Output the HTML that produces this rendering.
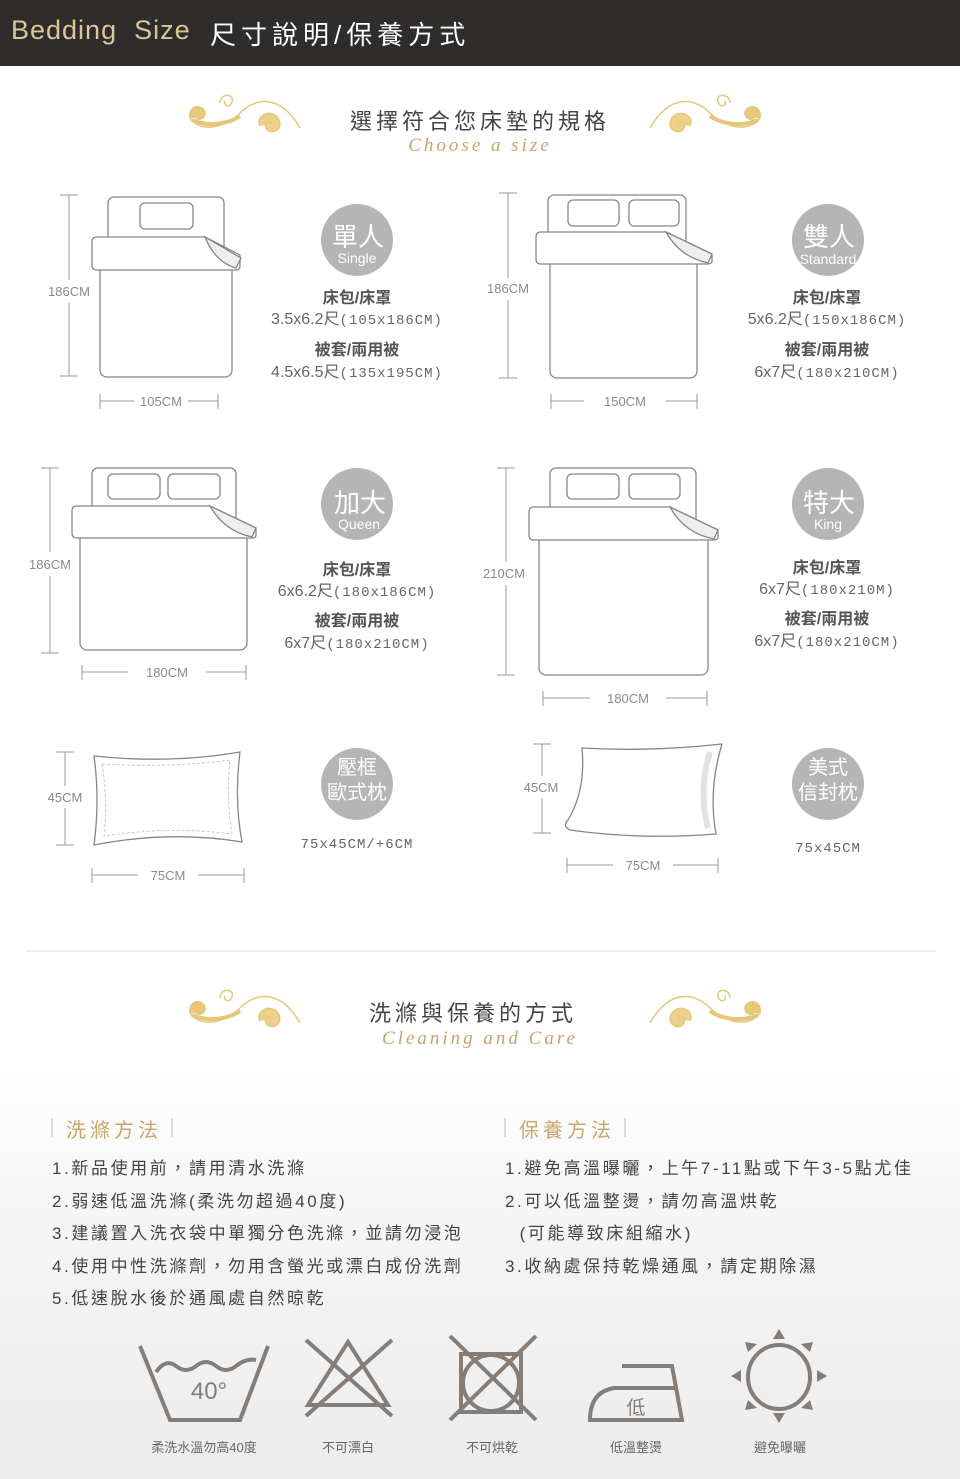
<!DOCTYPE html>
<html><head><meta charset="utf-8"><style>
*{margin:0;padding:0;box-sizing:border-box}
body{width:960px;height:1479px;position:relative;overflow:hidden;font-family:"Liberation Sans","Noto Sans CJK TC",sans-serif;background:linear-gradient(#fff 0,#fff 1070px,#f7f6f6 1200px,#ececec 1479px)}
.a{position:absolute;white-space:nowrap}
.c{transform:translateX(-50%);text-align:center}
.hdr{position:absolute;left:0;top:0;width:960px;height:66px;background:#2f2d2b}
.dim{color:#8a8a8a;font-size:13px}
.bt{font-size:16px;font-weight:bold;color:#555}
.bs{font-size:16px;color:#666}
.bs span{font-family:"Liberation Mono",monospace;font-size:14px;letter-spacing:1px}
.li{font-size:17px;color:#444;letter-spacing:2.6px}
.lh{font-size:20px;color:#c9a56a;letter-spacing:4px}
.lab{font-size:13px;color:#666}
</style></head><body>
<div class="hdr"></div>
<div class="a" style="left:11px;top:15px;font-size:27px;color:#d8c79a;letter-spacing:1px">Bedding&nbsp; Size</div>
<div class="a" style="left:210px;top:15px;font-size:26px;color:#fff;letter-spacing:5px">尺寸說明/保養方式</div>

<svg class="a" style="left:0;top:0" width="960" height="1479">
<defs>
<g id="orn" fill="none" stroke="#e6c77a" stroke-width="1.5">
<path d="M0,30 C10,45 35,40 50,25 C65,10 90,5 110,40" />
<path d="M0,30 C-2,20 8,15 14,22 C18,28 10,34 6,30" fill="#e8c97c"/>
<path d="M30,15 C30,5 45,5 42,14 C40,20 33,18 35,13"/>
<path d="M70,38 C65,28 80,20 88,30 C95,42 80,48 76,40 C73,34 80,32 82,36" fill="#ecd08c"/>
<path d="M2,32 C20,40 40,35 50,28" stroke-width="4"/>
</g>
</defs>
<use href="#orn" x="190" y="88"/>
<use href="#orn" transform="translate(760,88) scale(-1,1)"/>
<use href="#orn" x="190" y="983"/>
<use href="#orn" transform="translate(760,983) scale(-1,1)"/>

<g fill="#fff" stroke="#8a8585" stroke-width="1.3">
<rect x="108" y="197" width="116" height="70" rx="6"/>
<rect x="140" y="203" width="53" height="26" rx="5"/>
<rect x="100" y="262" width="132" height="115" rx="7"/>
<path d="M97,237 H205 L240,255 V266 Q240,270 236,270 H97 Q92,270 92,265 V242 Q92,237 97,237Z"/>
<path d="M205,237 Q215,262 236,268 L241,258 Z" fill="#eee"/>
<rect x="548" y="195" width="138" height="70" rx="6"/>
<rect x="568" y="200" width="51" height="26" rx="5"/>
<rect x="629" y="200" width="50" height="26" rx="5"/>
<rect x="550" y="258" width="147" height="120" rx="7"/>
<path d="M541,232 H666 L712,254 V261 Q712,264 708,264 H541 Q536,264 536,259 V237 Q536,232 541,232Z"/>
<path d="M666,232 Q680,257 708,263 L712,254 Z" fill="#eee"/>
<rect x="92" y="468" width="144" height="70" rx="6"/>
<rect x="108" y="474" width="52" height="25" rx="5"/>
<rect x="168" y="474" width="52" height="25" rx="5"/>
<rect x="80" y="532" width="167" height="118" rx="7"/>
<path d="M77,506 H210 L256,528 V535 Q256,538 252,538 H77 Q72,538 72,533 V511 Q72,506 77,506Z"/>
<path d="M210,506 Q224,531 252,537 L256,528 Z" fill="#eee"/>
<rect x="550" y="468" width="146" height="72" rx="6"/>
<rect x="567" y="474" width="52" height="25" rx="5"/>
<rect x="629" y="474" width="51" height="25" rx="5"/>
<rect x="539" y="534" width="169" height="141" rx="7"/>
<path d="M534,507 H670 L718,530 V537 Q718,540 714,540 H534 Q529,540 529,535 V512 Q529,507 534,507Z"/>
<path d="M670,507 Q684,533 714,539 L718,530 Z" fill="#eee"/>
<path d="M94,756 Q170,764 240,752 Q234,800 242,842 Q170,830 94,845 Q100,800 94,756Z"/>
<path d="M582,748 Q650,752 722,744 Q708,790 716,834 Q640,840 570,830 Q562,826 568,820 Q586,790 582,748Z"/>
</g>
<g fill="none" stroke="#bbb" stroke-width="0.8" stroke-dasharray="3,2">
<path d="M102,764 Q170,768 230,760 Q226,800 232,834 Q170,826 104,836 Q108,800 102,764Z"/>
</g>
<path d="M710,752 Q698,790 708,828" stroke="#e2e2e2" stroke-width="6" fill="none"/>

<g stroke="#999" stroke-width="1" fill="none">
<path d="M69,195V280M69,303V376M60,195H78M60,376H78"/>
<path d="M100,401H134M188,401H218M100,394V409M218,394V409"/>
<path d="M508,193V278M508,300V378M499,193H517M499,378H517"/>
<path d="M551,401H584M666,401H697M551,394V409M697,394V409"/>
<path d="M50,468V552M50,576V653M41,468H59M41,653H59"/>
<path d="M82,672H128M206,672H246M82,665V680M246,665V680"/>
<path d="M506,468V562M506,585V675M497,468H515M497,675H515"/>
<path d="M543,698H590M666,698H707M543,691V706M707,691V706"/>
<path d="M65,752V786M65,808V845M56,752H74M56,845H74"/>
<path d="M92,875H138M198,875H244M92,868V883M244,868V883"/>
<path d="M542,744V776M542,798V833M533,744H551M533,833H551"/>
<path d="M567,865H613M673,865H718M567,858V873M718,858V873"/>
</g>
<line x1="26" y1="951" x2="936" y2="951" stroke="#ddd"/>
<g stroke="#bbb"><path d="M52,1118V1137M172,1118V1137M505,1118V1137M625,1118V1137"/></g>

<g fill="#b5b5b5">
<circle cx="357" cy="240" r="36"/><circle cx="828" cy="240" r="36"/>
<circle cx="357" cy="504" r="36"/><circle cx="828" cy="504" r="36"/>
<circle cx="357" cy="784" r="36"/><circle cx="828" cy="784" r="36"/>
</g>

<g stroke="#857d77" stroke-width="4" fill="none">
<path d="M140,1346 L170,1420 H240 L268,1346"/>
<path d="M156,1372 q10,-14 20,-6 t20,0 t20,0 t20,0 t20,-6"/>
<path d="M308,1405 H388 L348,1342 Z"/>
<path d="M306,1340 L392,1416 M392,1340 L306,1416"/>
<rect x="461" y="1354" width="60" height="58"/>
<ellipse cx="491" cy="1383" rx="28" ry="28"/>
<path d="M450,1336 L536,1420 M536,1336 L450,1420"/>
<path d="M622,1366 H672 L682,1420 H590 Q590,1392 614,1388 H678"/>
<ellipse cx="779" cy="1377" rx="31" ry="32"/>
</g>
<g fill="#857d77">
<path d="M779,1329 l-6,10 h12Z M779,1423 l-6,-10 h12Z M731,1376 l10,-6 v12Z M827,1376 l-10,-6 v12Z"/>
<path d="M745,1342 l12,2 -9,8Z M813,1342 l-12,2 9,8Z M745,1410 l12,-2 -9,-8Z M813,1410 l-12,-2 9,-8Z"/>
</g>
</svg>

<div class="a c" style="left:480px;top:104px;font-size:22px;color:#444;letter-spacing:4px">選擇符合您床墊的規格</div>
<div class="a c" style="left:480px;top:135px;font-size:19px;color:#c4a46a;font-style:italic;font-family:'Liberation Serif',serif;letter-spacing:3px">Choose a size</div>
<div class="a c" style="left:473px;top:996px;font-size:22px;color:#444;letter-spacing:4px">洗滌與保養的方式</div>
<div class="a c" style="left:480px;top:1028px;font-size:19px;color:#c4a46a;font-style:italic;font-family:'Liberation Serif',serif;letter-spacing:3px">Cleaning and Care</div>

<div class="a dim c" style="left:69px;top:284px">186CM</div>
<div class="a dim c" style="left:161px;top:394px">105CM</div>
<div class="a dim c" style="left:508px;top:281px">186CM</div>
<div class="a dim c" style="left:625px;top:394px">150CM</div>
<div class="a dim c" style="left:50px;top:557px">186CM</div>
<div class="a dim c" style="left:167px;top:665px">180CM</div>
<div class="a dim c" style="left:504px;top:566px">210CM</div>
<div class="a dim c" style="left:628px;top:691px">180CM</div>
<div class="a dim c" style="left:65px;top:790px">45CM</div>
<div class="a dim c" style="left:168px;top:868px">75CM</div>
<div class="a dim c" style="left:541px;top:780px">45CM</div>
<div class="a dim c" style="left:643px;top:858px">75CM</div>

<div class="a c" style="left:358px;top:217px;font-size:26px;color:#fff">單人</div>
<div class="a c" style="left:357px;top:250px;font-size:14px;color:#fff">Single</div>
<div class="a c" style="left:829px;top:217px;font-size:26px;color:#fff">雙人</div>
<div class="a c" style="left:828px;top:251px;font-size:14px;color:#fff">Standard</div>
<div class="a c" style="left:360px;top:483px;font-size:26px;color:#fff">加大</div>
<div class="a c" style="left:359px;top:516px;font-size:14px;color:#fff">Queen</div>
<div class="a c" style="left:829px;top:483px;font-size:26px;color:#fff">特大</div>
<div class="a c" style="left:828px;top:516px;font-size:14px;color:#fff">King</div>
<div class="a c" style="left:357px;top:756px;font-size:20px;color:#fff;line-height:25px">壓框<br>歐式枕</div>
<div class="a c" style="left:828px;top:756px;font-size:20px;color:#fff;line-height:25px">美式<br>信封枕</div>

<div class="a bt c" style="left:357px;top:284px">床包/床罩</div>
<div class="a bs c" style="left:357px;top:305px">3.5x6.2尺<span>(105x186CM)</span></div>
<div class="a bt c" style="left:357px;top:336px">被套/兩用被</div>
<div class="a bs c" style="left:357px;top:358px">4.5x6.5尺<span>(135x195CM)</span></div>
<div class="a bt c" style="left:827px;top:284px">床包/床罩</div>
<div class="a bs c" style="left:827px;top:305px">5x6.2尺<span>(150x186CM)</span></div>
<div class="a bt c" style="left:827px;top:336px">被套/兩用被</div>
<div class="a bs c" style="left:827px;top:358px">6x7尺<span>(180x210CM)</span></div>
<div class="a bt c" style="left:357px;top:556px">床包/床罩</div>
<div class="a bs c" style="left:357px;top:577px">6x6.2尺<span>(180x186CM)</span></div>
<div class="a bt c" style="left:357px;top:607px">被套/兩用被</div>
<div class="a bs c" style="left:357px;top:629px">6x7尺<span>(180x210CM)</span></div>
<div class="a bt c" style="left:827px;top:554px">床包/床罩</div>
<div class="a bs c" style="left:827px;top:575px">6x7尺<span>(180x210M)</span></div>
<div class="a bt c" style="left:827px;top:605px">被套/兩用被</div>
<div class="a bs c" style="left:827px;top:627px">6x7尺<span>(180x210CM)</span></div>
<div class="a bs c" style="left:357px;top:835px"><span>75x45CM/+6CM</span></div>
<div class="a bs c" style="left:828px;top:839px"><span>75x45CM</span></div>

<div class="a lh" style="left:66px;top:1114px">洗滌方法</div>
<div class="a lh" style="left:519px;top:1114px">保養方法</div>
<div class="a li" style="left:52px;top:1154px">1.新品使用前，請用清水洗滌</div>
<div class="a li" style="left:52px;top:1187px">2.弱速低溫洗滌(柔洗勿超過40度)</div>
<div class="a li" style="left:52px;top:1219px">3.建議置入洗衣袋中單獨分色洗滌，並請勿浸泡</div>
<div class="a li" style="left:52px;top:1252px">4.使用中性洗滌劑，勿用含螢光或漂白成份洗劑</div>
<div class="a li" style="left:52px;top:1284px">5.低速脫水後於通風處自然晾乾</div>
<div class="a li" style="left:505px;top:1154px">1.避免高溫曝曬，上午7-11點或下午3-5點尤佳</div>
<div class="a li" style="left:505px;top:1187px">2.可以低溫整燙，請勿高溫烘乾</div>
<div class="a li" style="left:505px;top:1219px">&nbsp;&nbsp;(可能導致床組縮水)</div>
<div class="a li" style="left:505px;top:1252px">3.收納處保持乾燥通風，請定期除濕</div>

<div class="a c" style="left:209px;top:1378px;font-size:24px;color:#857d77">40°</div>
<div class="a c" style="left:636px;top:1393px;font-size:19px;color:#857d77">低</div>
<div class="a lab c" style="left:204px;top:1437px">柔洗水溫勿高40度</div>
<div class="a lab c" style="left:348px;top:1437px">不可漂白</div>
<div class="a lab c" style="left:492px;top:1437px">不可烘乾</div>
<div class="a lab c" style="left:636px;top:1437px">低溫整燙</div>
<div class="a lab c" style="left:780px;top:1437px">避免曝曬</div>
</body></html>
